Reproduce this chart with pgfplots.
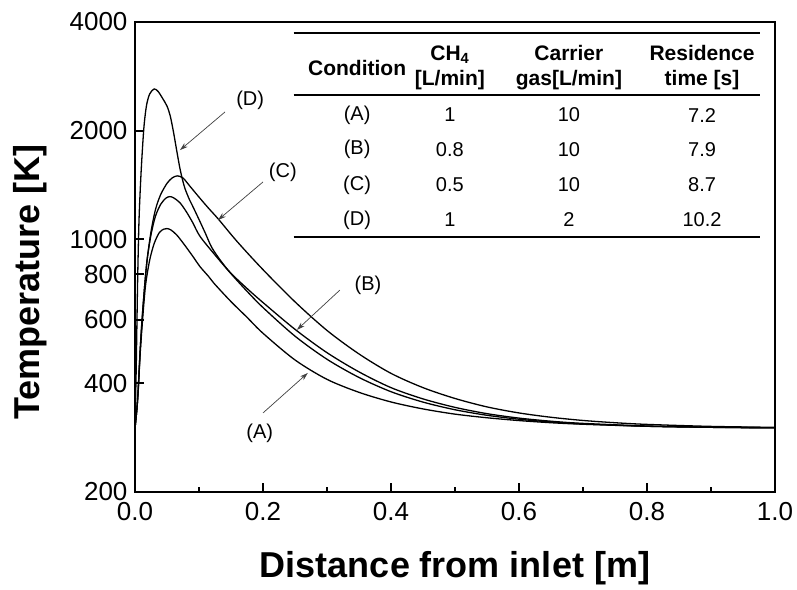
\documentclass[border=0pt]{standalone}
\usepackage{fontspec}
\setmainfont{Liberation Sans}
\usepackage{pgfplots}
\pgfplotsset{compat=1.18}
\usetikzlibrary{arrows.meta}

\begin{document}
\begin{tikzpicture}
\begin{axis}[
    name=ax,
    scale only axis,
    width=640pt, height=470pt,
    xmin=0, xmax=1,
    ymin=200, ymax=4000,
    ymode=log,
    axis line style={line width=2.4pt},
    xtick={0,0.2,0.4,0.6,0.8,1},
    xticklabels={0.0,0.2,0.4,0.6,0.8,1.0},
    minor xtick={0.1,0.3,0.5,0.7,0.9},
    ytick={200,400,600,800,1000,2000,4000},
    yticklabels={200,400,600,800,1000,2000,4000},
    tick align=inside,
    tick pos=left,
    major tick length=9pt,
    minor tick length=5pt,
    every tick/.style={line width=2pt, black},
    tick label style={font=\fontsize{26}{30}\selectfont},
    xticklabel style={yshift=-7pt},
    yticklabel style={xshift=-4pt},
    xlabel={Distance from inlet [m]},
    ylabel={Temperature [K]},
    label style={font=\bfseries\fontsize{36}{40}\selectfont},
    xlabel style={at={(axis description cs:0.5,-0.162)}, anchor=center},
    ylabel style={at={(axis description cs:-0.164,0.447)}, anchor=center},
    curve/.style={black, line width=1.3pt, no markers, smooth},
]

% (A)
\addplot[curve] coordinates {
 (0,300) (0.003,340) (0.005,380) (0.008,480) (0.011,573) (0.014,670)
 (0.017,760) (0.023,878) (0.03,975) (0.038,1045) (0.045,1068) (0.05,1072)
 (0.056,1063) (0.065,1030) (0.0755,976) (0.09,900) (0.1016,841) (0.115,790)
 (0.125,751) (0.15,673) (0.175,609) (0.2,550) (0.25,464) (0.3,410)
 (0.35,377.5) (0.4,355) (0.45,339.6) (0.5,328.5) (0.55,321) (0.6,315.3)
 (0.65,311) (0.7,308) (0.8,304) (0.9,302) (1,301)
};

% (B)
\addplot[curve] coordinates {
 (0,300) (0.003,340) (0.005,385) (0.008,490) (0.011,600) (0.015,740)
 (0.019,880) (0.025,1030) (0.032,1160) (0.04,1250) (0.048,1300) (0.054,1314)
 (0.06,1305) (0.07,1265) (0.08,1195) (0.09,1115) (0.1016,1020) (0.125,906)
 (0.15,804) (0.175,719) (0.2,648) (0.25,540) (0.3,466) (0.35,415)
 (0.4,379) (0.45,354.7) (0.5,337.8) (0.55,326.1) (0.6,318) (0.65,312.4)
 (0.7,308.6) (0.8,304.1) (0.9,302) (1,301)
};

% (C)
\addplot[curve] coordinates {
 (0,300) (0.003,340) (0.005,385) (0.008,490) (0.011,595) (0.015,740)
 (0.019,880) (0.025,1050) (0.032,1210) (0.04,1330) (0.05,1430) (0.058,1480)
 (0.066,1500) (0.075,1480) (0.085,1410) (0.1,1310) (0.115,1220) (0.13,1140)
 (0.16,985) (0.2,825) (0.25,672) (0.3,560) (0.35,482) (0.4,426)
 (0.45,389) (0.5,363) (0.55,344) (0.6,331) (0.65,322) (0.7,315.5)
 (0.75,311) (0.8,307.7) (0.9,303.8) (1,302)
};

% (D)
\addplot[curve] coordinates {
 (0,300) (0.002,450) (0.004,750) (0.006,1090) (0.008,1350) (0.0105,1650)
 (0.014,2050) (0.018,2350) (0.023,2530) (0.03,2610) (0.036,2570) (0.043,2460)
 (0.05,2340) (0.055,2200) (0.06,1990) (0.065,1770) (0.07,1580) (0.074,1470)
 (0.078,1385) (0.085,1290) (0.09,1238) (0.1,1136) (0.11,1040) (0.12,950)
 (0.135,868) (0.15,806) (0.175,732) (0.2,669) (0.25,564) (0.3,486)
 (0.35,430) (0.4,389) (0.45,362) (0.5,343) (0.55,329.5) (0.6,320.3)
 (0.65,314) (0.7,309.7) (0.8,304.6) (0.9,302.3) (1,301)
};

% curve labels with arrows
\begin{scope}[font=\fontsize{20}{24}\selectfont]
\node at (axis cs:0.180,2434) {(D)};
\node at (axis cs:0.231,1538) {(C)};
\node at (axis cs:0.364,748) {(B)};
\node at (axis cs:0.195,291) {(A)};
\end{scope}
\begin{scope}[black!75, line width=0.7pt, -{Stealth[length=8pt,width=5pt]}]
\draw (axis cs:0.1406,2254) -- (axis cs:0.0703,1768);
\draw (axis cs:0.200,1443) -- (axis cs:0.1297,1132);
\draw (axis cs:0.320,724) -- (axis cs:0.253,562);
\draw (axis cs:0.200,331) -- (axis cs:0.270,427);
\end{scope}

% inset table
\draw[line width=2pt] (axis description cs:0.248,0.977) -- (axis description cs:0.977,0.977);
\draw[line width=2pt] (axis description cs:0.248,0.845) -- (axis description cs:0.977,0.845);
\draw[line width=2pt] (axis description cs:0.248,0.543) -- (axis description cs:0.977,0.543);
\begin{scope}[font=\bfseries\fontsize{21}{25}\selectfont, align=center]
\node at (axis description cs:0.347,0.902) {Condition};
\node at (axis description cs:0.492,0.902) {CH\textsubscript{4}\\{}[L/min]};
\node at (axis description cs:0.678,0.902) {Carrier\\gas[L/min]};
\node at (axis description cs:0.886,0.902) {Residence\\time [s]};
\end{scope}
\begin{scope}[font=\fontsize{20}{24}\selectfont]
\node at (axis description cs:0.347,0.802) {(A)};
\node at (axis description cs:0.492,0.802) {1};
\node at (axis description cs:0.678,0.802) {10};
\node at (axis description cs:0.886,0.802) {7.2};
\node at (axis description cs:0.347,0.728) {(B)};
\node at (axis description cs:0.492,0.728) {0.8};
\node at (axis description cs:0.678,0.728) {10};
\node at (axis description cs:0.886,0.728) {7.9};
\node at (axis description cs:0.347,0.653) {(C)};
\node at (axis description cs:0.492,0.653) {0.5};
\node at (axis description cs:0.678,0.653) {10};
\node at (axis description cs:0.886,0.653) {8.7};
\node at (axis description cs:0.347,0.579) {(D)};
\node at (axis description cs:0.492,0.579) {1};
\node at (axis description cs:0.678,0.579) {2};
\node at (axis description cs:0.886,0.579) {10.2};
\end{scope}
\end{axis}
\pgfresetboundingbox
\path[use as bounding box] ([xshift=-135pt,yshift=-98pt]ax.south west)
  rectangle ([xshift=22pt,yshift=22pt]ax.north east);
\end{tikzpicture}
\end{document}
